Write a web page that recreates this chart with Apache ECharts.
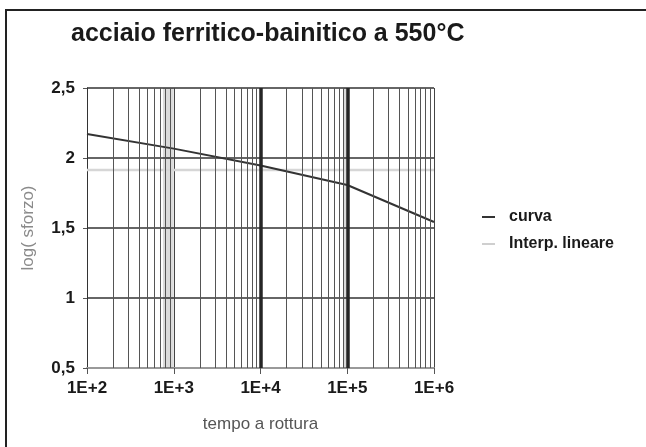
<!DOCTYPE html>
<html>
<head>
<meta charset="utf-8">
<script src="https://cdn.jsdelivr.net/npm/echarts@6/dist/echarts.min.js"></script>
<style>
  html, body { margin: 0; padding: 0; background: #fff; }
  #chart { width: 646px; height: 447px; }
</style>
</head>
<body>
<div id="chart"></div>
<script>
// Tempo a rottura (ore), asse logaritmico
const tempi = [100, 1000, 10000, 100000, 1000000];
// log(sforzo) della curva di rottura
const curva = [2.171, 2.067, 1.947, 1.807, 1.543];
// Interpolazione lineare
const interpTempi = [100, 1000000];
const interp = [1.915, 1.915];

// Etichette degli assi
const xTickLabels = ['1E+2', '1E+3', '1E+4', '1E+5', '1E+6'];
const yTickLabels = ['0,5', '1', '1,5', '2', '2,5'];

// Griglia secondaria: 2..9 per ogni decade
const minorMult = [2, 3, 4, 5, 6, 7, 8, 9];
const decadi = [2, 3, 4, 5];
// Decadi marcate con linea spessa
const lineeSpesse = [10000, 100000];

const minorGrid = [];
decadi.forEach(e => minorMult.forEach(m => minorGrid.push(m * Math.pow(10, e))));

const FONT = 'Liberation Sans, Arial, sans-serif';

const chart = echarts.init(document.getElementById('chart'), null, { renderer: 'canvas' });

const gridLines = minorGrid.map(v => ({ xAxis: v }))
  .concat(lineeSpesse.map(v => ({ xAxis: v, lineStyle: { color: '#262626', width: 3.5 } })));

chart.setOption({
  animation: false,
  backgroundColor: '#fff',
  title: {
    text: 'acciaio ferritico-bainitico a 550°C',
    left: 66,
    top: 17,
    textStyle: { fontFamily: FONT, fontWeight: 'bold', fontSize: 25, color: '#1a1a1a' }
  },
  graphic: [{
    type: 'rect',
    silent: true,
    shape: { x: 6, y: 10, width: 700, height: 500 },
    style: { fill: null, stroke: '#222', lineWidth: 2 }
  }],
  legend: {
    data: [
      { name: 'curva', icon: 'rect', itemStyle: { color: '#333' } },
      { name: 'Interp. lineare', icon: 'rect', itemStyle: { color: '#cfcfcf' } }
    ],
    orient: 'vertical',
    left: 477,
    top: 204,
    itemWidth: 13,
    itemHeight: 2,
    itemGap: 11,
    textStyle: {
      fontFamily: FONT, fontSize: 16, fontWeight: 'bold', color: '#1a1a1a',
      padding: [0, 0, 0, 9]
    }
  },
  grid: { left: 87, top: 88, width: 347, height: 280 },
  xAxis: {
    type: 'log',
    logBase: 10,
    min: 100,
    max: 1000000,
    name: 'tempo a rottura',
    nameLocation: 'middle',
    nameGap: 48,
    nameTextStyle: { fontFamily: FONT, fontSize: 17, color: '#555' },
    axisLine: { show: true, lineStyle: { color: '#999', width: 2 } },
    axisTick: { show: true, length: 6, lineStyle: { color: '#555' } },
    axisLabel: {
      margin: 12,
      fontFamily: FONT,
      fontSize: 17,
      fontWeight: 'bold',
      color: '#1a1a1a',
      formatter: v => xTickLabels[Math.round(Math.log10(v)) - 2]
    },
    splitLine: { show: true, lineStyle: { color: '#444', width: 1 } }
  },
  yAxis: {
    type: 'value',
    min: 0.5,
    max: 2.5,
    interval: 0.5,
    name: 'log( sforzo)',
    nameLocation: 'middle',
    nameGap: 50,
    nameRotate: 90,
    nameTextStyle: { fontFamily: FONT, fontSize: 17, color: '#8a8a8a' },
    axisLine: { show: true, lineStyle: { color: '#333', width: 1 } },
    axisTick: { show: true, length: 4, lineStyle: { color: '#555' } },
    axisLabel: {
      margin: 12,
      fontFamily: FONT,
      fontSize: 17,
      fontWeight: 'bold',
      color: '#1a1a1a',
      formatter: v => yTickLabels[Math.round((v - 0.5) / 0.5)]
    },
    splitLine: { show: true, lineStyle: { color: '#333', width: 1.5 } }
  },
  series: [
    {
      name: 'griglia',
      type: 'line',
      data: tempi.map((t, i) => [t, curva[i]]),
      symbol: 'none',
      silent: true,
      lineStyle: { opacity: 0 },
      z: 1,
      markArea: {
        silent: true,
        itemStyle: { color: 'rgba(0,0,0,0.14)' },
        data: [[{ xAxis: 750 }, { xAxis: 1000 }], [{ xAxis: 90000 }, { xAxis: 100000 }]]
      },
      markLine: {
        silent: true,
        symbol: ['none', 'none'],
        label: { show: false },
        lineStyle: { color: '#555', width: 1, type: 'solid' },
        emphasis: { disabled: true },
        data: gridLines
      }
    },
    {
      name: 'Interp. lineare',
      type: 'line',
      data: interpTempi.map((t, i) => [t, interp[i]]),
      symbol: 'none',
      color: '#d6d6d6',
      lineStyle: { color: '#d6d6d6', width: 2.5 },
      z: 3
    },
    {
      name: 'curva',
      type: 'line',
      data: tempi.map((t, i) => [t, curva[i]]),
      symbol: 'none',
      color: '#333',
      lineStyle: { color: '#333', width: 2 },
      z: 4
    }
  ]
});
</script>
</body>
</html>
